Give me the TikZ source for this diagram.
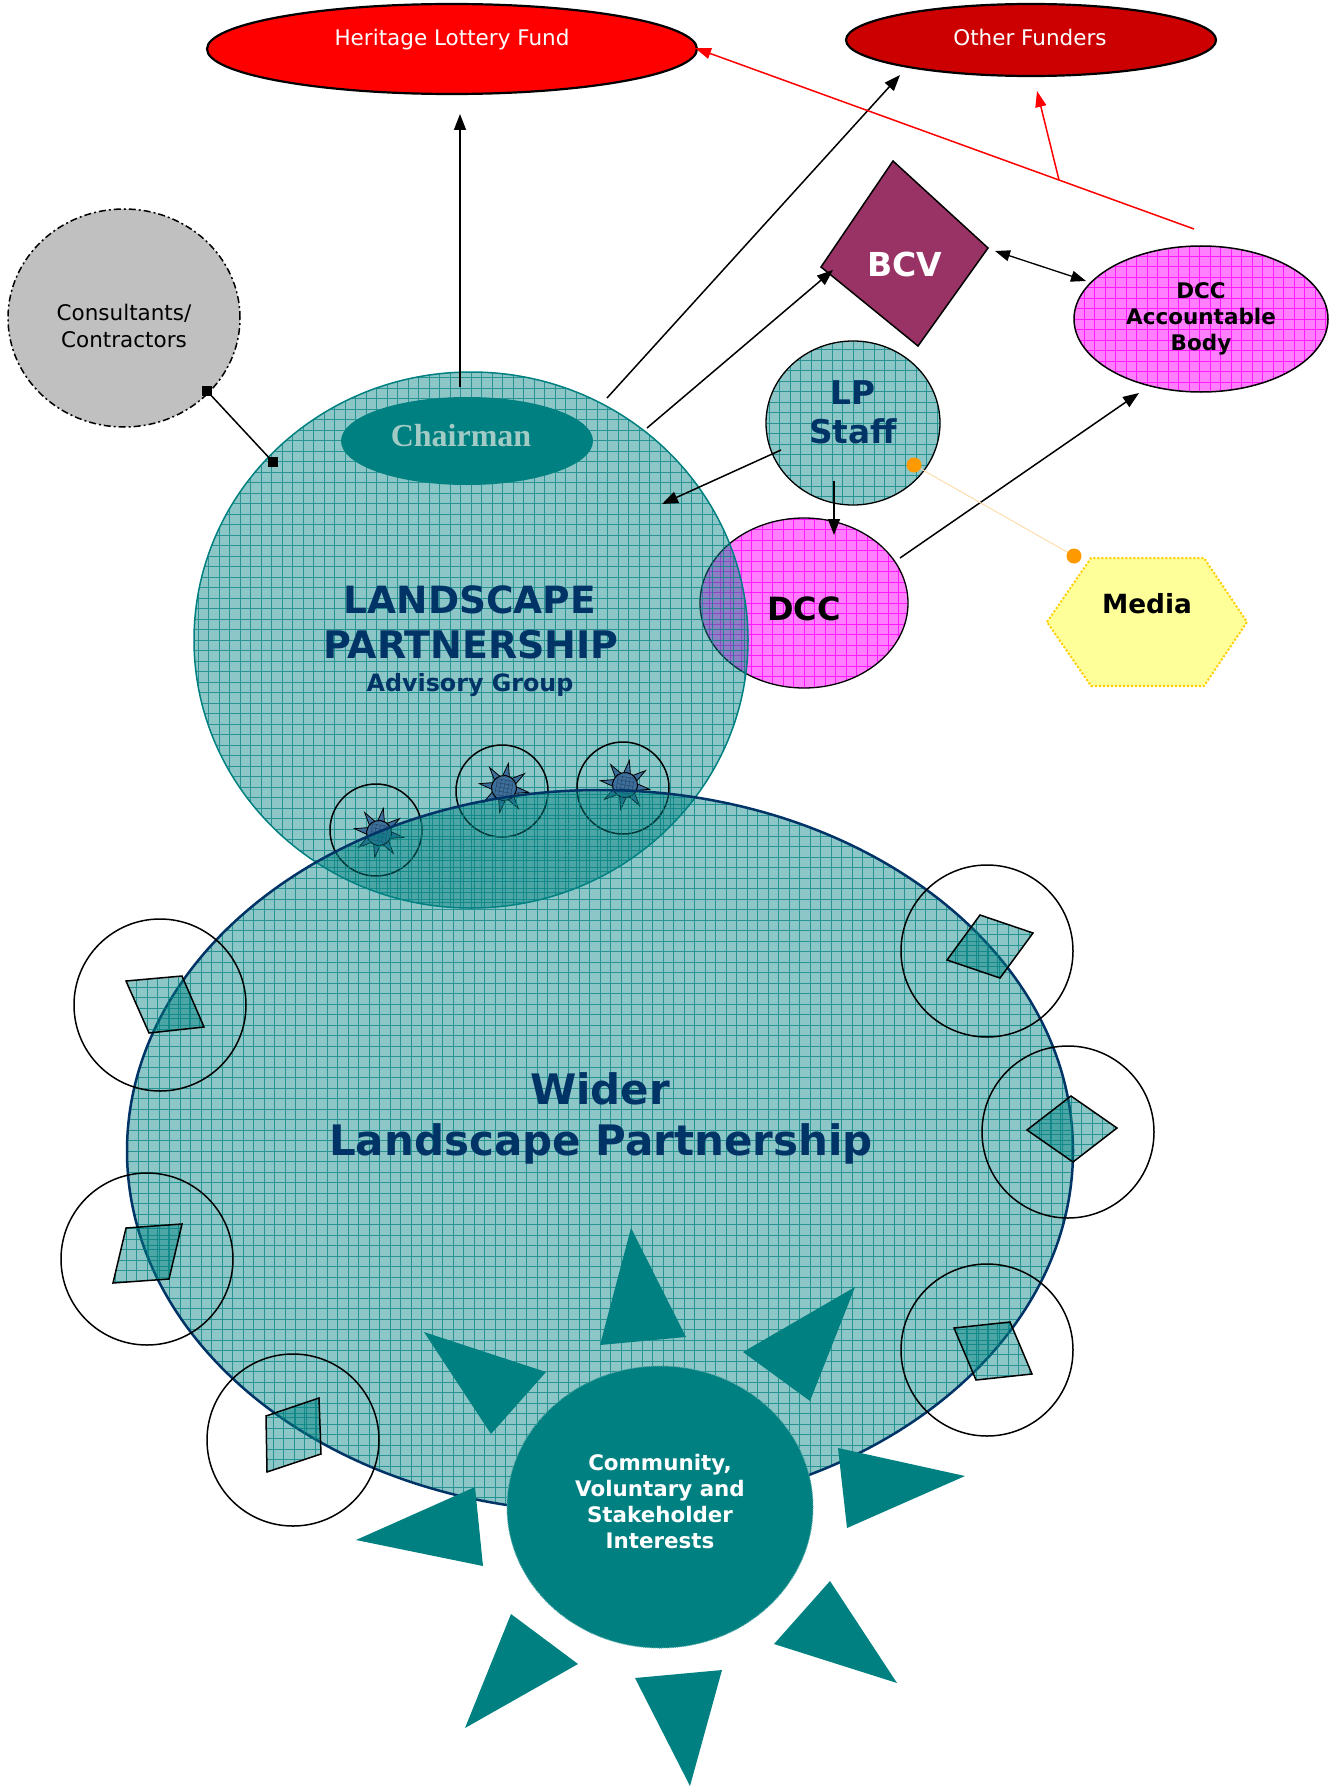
\documentclass[tikz,border=0pt]{standalone}
\usepackage{fontspec}
\setmainfont{DejaVu Sans}
\newfontfamily\chairfont{Liberation Serif}
\usetikzlibrary{shapes.geometric,arrows.meta}

\definecolor{navyblue}{HTML}{003366}
\definecolor{hlfred}{HTML}{FF0000}
\definecolor{funderred}{HTML}{CC0000}
\definecolor{consgrey}{HTML}{C0C0C0}
\definecolor{bcvplum}{HTML}{993366}
\definecolor{mediayellow}{HTML}{FFFF99}
\definecolor{mediagold}{HTML}{FFCC00}
\definecolor{dotorange}{HTML}{FF9900}
\definecolor{linkorange}{HTML}{FFD9A6}
\definecolor{chairtext}{HTML}{A3CBC6}
\definecolor{sunblue}{HTML}{3D6F9C}
\definecolor{gridteal}{RGB}{0,128,128}
\definecolor{gridpink}{RGB}{255,0,255}

\tikzset{
  tealgrid/.style={fill=gridteal, fill opacity=0.45, text opacity=1,
    path picture={\draw[gridteal, opacity=0.72, line width=0.9pt, step=10.5pt]
      (path picture bounding box.south west) grid (path picture bounding box.north east);}},
  pinkgrid/.style={fill=gridpink, fill opacity=0.5, text opacity=1,
    path picture={\draw[gridpink, opacity=0.8, line width=0.9pt, step=10.5pt]
      (path picture bounding box.south west) grid (path picture bounding box.north east);}},
  arr/.style={line width=1.5pt, -{Triangle[length=16pt,width=12pt]}},
  dblarr/.style={line width=1.3pt, {Triangle[length=15pt,width=11pt]}-{Triangle[length=15pt,width=11pt]}},
  redarr/.style={red, line width=1.5pt, -{Triangle[length=16pt,width=11pt]}},
  sqend/.style={rectangle, fill=black, minimum size=10pt, inner sep=0pt},
  ring/.style={circle, draw=black, line width=1.5pt, minimum size=#1, inner sep=0pt},
  facet/.style={tealgrid, draw=black, line width=1.5pt},
  ray/.style={fill=gridteal},
  boldtext/.style={font=\bfseries\fontsize{#1}{#1}\selectfont},
  sunpic/.pic={
    \foreach \a in {0,45,...,315} {
      \filldraw[fill=sunblue, draw=black, line width=0.8pt]
        ({\a-24}:10) -- ({\a}:25) -- ({\a+24}:10) -- cycle;
    }
    \filldraw[fill=sunblue, draw=black, line width=1pt] (0,0) circle[radius=12.5pt];
    \draw[black, opacity=0.35, line width=0.5pt] (-8,-8) grid[step=4pt] (8,8);
  }
}

\begin{document}
\begin{tikzpicture}[x=1pt, y=-1pt]
\useasboundingbox (0,0) rectangle (1334,1787);

% funders
\node[ellipse, draw=black, line width=2.2pt, fill=hlfred, minimum width=490pt, minimum height=90pt] (hlf) at (452,49) {};
\node[text=white, font=\fontsize{21.5}{25}\selectfont] (hlflabel) at (452,40) {Heritage Lottery Fund};
\node[ellipse, draw=black, line width=2.2pt, fill=funderred, minimum width=370pt, minimum height=72pt] (other) at (1031,40) {};
\node[text=white, font=\fontsize{21.5}{25}\selectfont] (otherlabel) at (1030,37) {Other Funders};

% consultants
\node[ellipse, draw=black, line width=1.5pt, dash pattern=on 7pt off 3pt on 2pt off 3pt, fill=consgrey,
      minimum width=232pt, minimum height=218pt] (cons) at (124,318) {};
\node[align=center, font=\fontsize{21.5}{26.5}\selectfont] (conslabel) at (124,326) {Consultants/\\Contractors};

% DCC below the advisory group
\node[ellipse, pinkgrid, draw=black, line width=1.3pt, minimum width=208pt, minimum height=170pt] (dcc) at (804,603) {};

% landscape partnership advisory group
\node[ellipse, tealgrid, draw=gridteal, line width=1.5pt, minimum width=554pt, minimum height=536pt] (lpag) at (471,640) {};
\node[ellipse, fill=gridteal, minimum width=252pt, minimum height=88pt] (chair) at (467,441) {};
\node[text=chairtext, font=\chairfont\bfseries\fontsize{32}{36}\selectfont] (chairlabel) at (461,436) {Chairman};
\node[anchor=base, text=navyblue, boldtext=37.5] (lpt1) at (470,613) {LANDSCAPE};
\node[anchor=base, text=navyblue, boldtext=38] (lpt2) at (471,658) {PARTNERSHIP};
\node[anchor=base, text=navyblue, boldtext=23.8] (lpt3) at (470,691) {Advisory Group};

% member rings on the advisory group
\node[ring=92pt] (m1) at (376,830) {};
\node[ring=92pt] (m2) at (502,791) {};
\node[ring=92pt] (m3) at (623,788) {};
\pic[rotate=-10] at (379,833) {sunpic};
\pic[rotate=-10] at (504,788) {sunpic};
\pic[rotate=-10] at (625,785) {sunpic};

% wider landscape partnership
\node[ellipse, tealgrid, draw=navyblue, line width=2.5pt, minimum width=946pt, minimum height=722pt] (wlp) at (600,1151) {};
\node[anchor=base, text=navyblue, boldtext=42] (wlt1) at (600,1104) {Wider};
\node[anchor=base, text=navyblue, boldtext=42] (wlt2) at (601,1155) {Landscape Partnership};

% partner rings round the edge
\node[ring=172pt] (pa) at (160,1005) {};
\path[facet] (126,981) -- (182,976) -- (204,1027) -- (149,1033) -- cycle;
\node[ring=172pt] (pb) at (147,1259) {};
\path[facet] (126,1228) -- (182,1224) -- (169,1279) -- (113,1283) -- cycle;
\node[ring=172pt] (pc) at (293,1440) {};
\path[facet] (266,1416) -- (319,1398) -- (321,1454) -- (267,1472) -- cycle;
\node[ring=172pt] (pd) at (987,951) {};
\path[facet] (980,915) -- (1033,933) -- (1000,978) -- (947,960) -- cycle;
\node[ring=172pt] (pe) at (1068,1132) {};
\path[facet] (1071,1096) -- (1117,1128) -- (1073,1162) -- (1027,1130) -- cycle;
\node[ring=172pt] (pf) at (987,1350) {};
\path[facet] (954,1328) -- (1010,1322) -- (1032,1374) -- (976,1380) -- cycle;

% community sun
\fill[ray] (631,1228) -- (686,1337) -- (600,1345) -- cycle;
\fill[ray] (855,1287) -- (810,1401) -- (743,1352) -- cycle;
\fill[ray] (424,1332) -- (546,1372) -- (491,1434) -- cycle;
\fill[ray] (838,1448) -- (965,1476) -- (847,1528) -- cycle;
\fill[ray] (475,1487) -- (483,1566) -- (356,1540) -- cycle;
\fill[ray] (830,1581) -- (897,1683) -- (774,1644) -- cycle;
\fill[ray] (511,1614) -- (578,1664) -- (465,1728) -- cycle;
\fill[ray] (635,1678) -- (722,1670) -- (690,1786) -- cycle;
\node[ellipse, fill=gridteal, draw=gridteal!65!white, line width=1pt, dash pattern=on 1pt off 1pt,
      minimum width=306pt, minimum height=282pt] (cvs) at (660,1507) {};
\node[align=center, text=white, font=\bfseries\fontsize{21.4}{26}\selectfont] (cvslabel) at (660,1502)
  {Community,\\Voluntary and\\Stakeholder\\Interests};

% LP staff
\node[ellipse, tealgrid, draw=black, line width=1.3pt, minimum width=174pt, minimum height=164pt] (lps) at (853,423) {};
\node[align=center, text=navyblue, font=\bfseries\fontsize{32.7}{39}\selectfont] (lpslabel) at (853,412) {LP\\Staff};
\node[boldtext=32] (dcclabel) at (804,609) {DCC};

% BCV
\path[fill=bcvplum, draw=black, line width=1.5pt] (893,161) -- (988,248) -- (918,346) -- (821,267) -- cycle;
\node[text=white, boldtext=33] (bcv) at (905,264) {BCV};

% accountable body
\node[ellipse, pinkgrid, draw=black, line width=1.5pt, minimum width=254pt, minimum height=146pt,
      align=center, font=\bfseries\fontsize{21.5}{26}\selectfont] (dccab) at (1201,319) {DCC\\Accountable\\Body};

% media
\path[fill=mediayellow, draw=mediagold, line width=2pt, dash pattern=on 2pt off 2pt]
  (1047,622) -- (1091,558) -- (1204,558) -- (1247,622) -- (1204,686) -- (1091,686) -- cycle;
\node[boldtext=26.4] (media) at (1147,604) {Media};

% link points
\coordinate (chairUp) at (460,387);
\coordinate (hlfIn) at (460,114);
\coordinate (lpRim) at (607,398);
\coordinate (otherIn) at (900,75);
\coordinate (lpRim2) at (647,428);
\coordinate (bcvW) at (833,270);
\coordinate (bcvE) at (995,251);
\coordinate (abW) at (1086,281);
\coordinate (lpsW) at (781,450);
\coordinate (lpIn) at (662,504);
\coordinate (lpsS) at (834,481);
\coordinate (dccIn) at (834,535);
\coordinate (dccNE) at (900,558);
\coordinate (abS) at (1139,393);
\coordinate (redStart) at (1194,229);
\coordinate (hlfE) at (695,48);
\coordinate (redFork) at (1059,180);
\coordinate (otherS) at (1037,91);

% connectors
\draw[arr] (chairUp) -- (hlfIn);
\draw[arr] (lpRim) -- (otherIn);
\draw[arr] (lpRim2) -- (bcvW);
\draw[dblarr] (bcvE) -- (abW);
\draw[arr] (lpsW) -- (lpIn);
\draw[arr] (lpsS) -- (dccIn);
\draw[arr] (dccNE) -- (abS);
\draw[redarr] (redStart) -- (hlfE);
\draw[redarr] (redFork) -- (otherS);

% consultants link with square ends
\node[sqend] (consSq) at (207,391) {};
\node[sqend] (lpSq) at (273,462) {};
\draw[line width=1.5pt] (lpSq.center) -- (consSq.center);

% media link
\node[circle, fill=dotorange, minimum size=15pt, inner sep=0pt] (dotA) at (914,465) {};
\node[circle, fill=dotorange, minimum size=15pt, inner sep=0pt] (dotB) at (1074,556) {};
\draw[linkorange, line width=0.9pt] (dotA) -- (dotB);
\end{tikzpicture}
\end{document}
